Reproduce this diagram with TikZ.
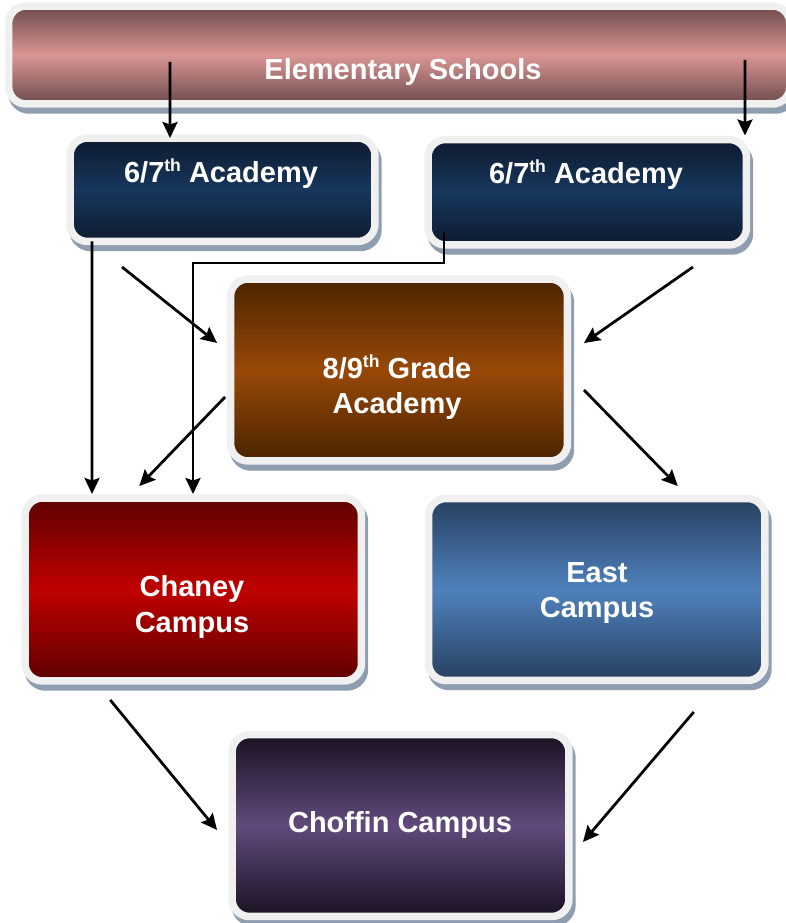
\documentclass[tikz,border=0pt]{standalone}
\usepackage{fontspec}
\setmainfont{Liberation Sans}
\usepackage{tikz}
\usetikzlibrary{shapes,arrows.meta,positioning,calc,shadows}
\definecolor{rimgray}{RGB}{240,240,240}
\definecolor{shadowblue}{RGB}{142,157,176}
\definecolor{elemdark}{RGB}{110,75,75}
\definecolor{elemlight}{RGB}{217,150,148}
\definecolor{navydark}{RGB}{14,26,46}
\definecolor{navylight}{RGB}{23,55,94}
\definecolor{gradedark}{RGB}{74,36,0}
\definecolor{gradelight}{RGB}{152,72,7}
\definecolor{chaneydark}{RGB}{94,0,0}
\definecolor{chaneylight}{RGB}{192,0,0}
\definecolor{eastdark}{RGB}{39,64,95}
\definecolor{eastlight}{RGB}{79,129,189}
\definecolor{choffindark}{RGB}{26,17,34}
\definecolor{choffinlight}{RGB}{96,74,123}
\newcommand{\ordsup}[1]{\raisebox{0.36em}{\fontsize{10}{10}\selectfont #1}}
\tikzset{
    box/.style={rectangle, draw=rimgray, line width=0.15cm, rounded corners=0.35cm, inner sep=0pt, outer sep=0pt, drop shadow={shadow xshift=0.06cm, shadow yshift=-0.12cm, fill=shadowblue, draw=shadowblue, line width=0.15cm, opacity=1}},
    band/.style 2 args={top color=#1, bottom color=#1, middle color=#2},
    boxtext/.style={text=white, font=\bfseries\fontsize{16.5}{20}\selectfont, align=center, inner sep=0pt},
    line/.style={draw, line width=0.055cm, -{Stealth[length=0.32cm, width=0.3cm, inset=0.05cm]}}
}

\begin{document}
\begin{tikzpicture}[x=0.02cm, y=-0.02cm]
    \useasboundingbox (0,0) rectangle (786,923);

    % Feeder schools
    \node [box, band={elemdark}{elemlight}, minimum width=15.63cm, minimum height=1.96cm] (elem) at (399.25,55) {};
    \node [boxtext, anchor=base] (elemtext) at (403,79) {Elementary Schools};

    % Academies
    \node [box, band={navydark}{navylight}, minimum width=6.1cm, minimum height=2.07cm] (acadL) at (222.5,189.75) {};
    \node [boxtext, anchor=base] (acadLtext) at (221,182) {6/7\ordsup{th} Academy};
    \node [box, band={navydark}{navylight}, minimum width=6.37cm, minimum height=2.11cm] (acadR) at (587.25,192.25) {};
    \node [boxtext, anchor=base] (acadRtext) at (586,183) {6/7\ordsup{th} Academy};
    \node [box, band={gradedark}{gradelight}, minimum width=6.74cm, minimum height=3.64cm] (grade) at (399,370) {};
    \node [boxtext] (gradetext) at (397,387) {8/9\ordsup{th} Grade\\Academy};

    % Campuses
    \node [box, band={chaneydark}{chaneylight}, minimum width=6.73cm, minimum height=3.66cm] (chaney) at (193.25,589.5) {};
    \node [boxtext] (chaneytext) at (192,607) {Chaney\\Campus};
    \node [box, band={eastdark}{eastlight}, minimum width=6.73cm, minimum height=3.64cm] (east) at (596.75,589.5) {};
    \node [boxtext] (easttext) at (597,593) {East\\Campus};
    \node [box, band={choffindark}{choffinlight}, minimum width=6.74cm, minimum height=3.64cm] (choffin) at (400.5,825.5) {};
    \node [boxtext, anchor=base] (choffintext) at (400,832) {Choffin Campus};

    % Flows
    \path [line] ($(elem.south west)+(161.5,-42)$) -- ($(acadL.north)+(-52.5,0)$);
    \path [line] ($(elem.south west)+(736.5,-44)$) -- ($(acadR.north east)+(-1.5,-4)$);
    \path [line] ($(acadL.south west)+(22,0)$) -- ($(chaney.north west)+(67,-4)$);
    \path [line] ($(acadL.south west)+(52,25.5)$) -- ($(grade.west)+(-13.5,-27)$);
    \path [line] ($(acadR.south west)+(16,-13)$) -- ++(0,31) -| ($(chaney.north)+(-0.25,-4)$);
    \path [line] ($(acadR.south east)+(-53.5,22)$) -- ($(grade.east)+(16.5,-27)$);
    \path [line] ($(grade.west)+(-5.5,27)$) -- ($(chaney.north)+(-54,-12)$);
    \path [line] ($(grade.east)+(16.5,20)$) -- ($(east.north)+(81,-12.5)$);
    \path [line] ($(chaney.south)+(-83,19)$) -- ($(choffin.west)+(-15,4.5)$);
    \path [line] ($(east.south)+(97,31.5)$) -- ($(choffin.east)+(14,16.5)$);
\end{tikzpicture}
\end{document}
